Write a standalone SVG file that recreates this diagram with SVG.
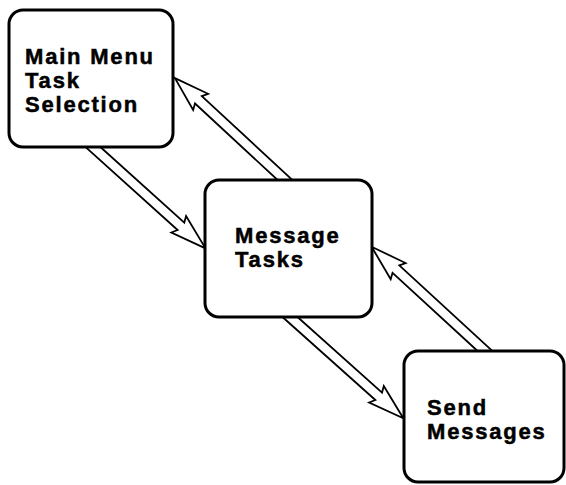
<svg xmlns="http://www.w3.org/2000/svg" width="566" height="485" viewBox="0 0 566 485">
  <style>
    .box { fill: #fff; stroke: #000; stroke-width: 3; }
    .arrow { fill: #fff; stroke: #000; stroke-width: 1.8; stroke-linejoin: miter; }
    .label { font-family: "Liberation Sans", Arial, sans-serif; font-weight: bold; font-size: 22px; letter-spacing: 1.8px; fill: #000; stroke: #000; stroke-width: 0.5; }
  </style>
  <rect width="566" height="485" fill="#fff"/>

  <!-- hollow double-line arrows, drawn along +x then placed -->
  <g id="connectors">
    <path class="arrow" transform="translate(94,148) rotate(42)" d="M-6,-5 H117 L114,-11 L150,0 L114,11 L117,5 H-6"/>
    <path class="arrow" transform="translate(285,180) rotate(-137.2)" d="M-6,-5 H118 L115,-11 L150,0 L115,11 L118,5 H-6"/>
    <path class="arrow" transform="translate(290,317) rotate(41.8)" d="M-6,-5 H119 L116,-11 L152,0 L116,11 L119,5 H-6"/>
    <path class="arrow" transform="translate(485,351) rotate(-137.4)" d="M-6,-5 H121 L118,-11 L154,0 L118,11 L121,5 H-6"/>
  </g>

  <g id="main-menu">
    <rect class="box" x="9" y="10" width="164" height="137" rx="14"/>
    <text class="label" x="25" y="64">Main Menu</text>
    <text class="label" x="25" y="88">Task</text>
    <text class="label" x="25" y="112">Selection</text>
  </g>

  <g id="message-tasks">
    <rect class="box" x="205" y="180" width="167" height="137" rx="14"/>
    <text class="label" x="235" y="243">Message</text>
    <text class="label" x="235" y="267">Tasks</text>
  </g>

  <g id="send-messages">
    <rect class="box" x="404" y="351" width="160" height="131" rx="14"/>
    <text class="label" x="427" y="415">Send</text>
    <text class="label" x="427" y="439">Messages</text>
  </g>
</svg>
